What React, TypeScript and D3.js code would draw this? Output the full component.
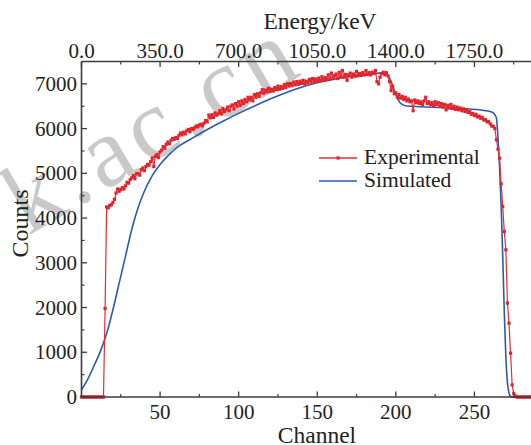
import React from "react";
import * as d3 from "d3";

const W = 531;
const H = 445;

// Experimental counts, one value per channel (index = channel 0..290)
const expCounts = [
  0, 0, 0, 0, 0, 0, 0, 0, 0, 0,
  0, 0, 0, 0, 0, 1980, 4250, 4230, 4280, 4300,
  4350, 4420, 4560, 4650, 4600, 4640, 4680, 4650, 4720, 4800,
  4780, 4860, 4900, 4950, 4880, 4990, 5000, 4960, 5080, 5120,
  5060, 5150, 5200, 5180, 5260, 5340, 5150, 5380, 5420, 5350,
  5480, 5520, 5600, 5560, 5650, 5700, 5660, 5740, 5780, 5760,
  5800, 5780, 5850, 5900, 5860, 5920, 5880, 5950, 5980, 5930,
  6000, 5980, 6020, 6060, 6040, 6080, 6100, 6060, 6120, 6180,
  6150, 6300, 6240, 6310, 6250, 6350, 6300, 6330, 6400, 6330,
  6450, 6380, 6420, 6480, 6400, 6500, 6530, 6440, 6560, 6500,
  6600, 6520, 6620, 6560, 6650, 6600, 6700, 6640, 6700, 6620,
  6760, 6700, 6780, 6720, 6800, 6870, 6790, 6860, 6820, 6900,
  6830, 6880, 6840, 6920, 6870, 6950, 6880, 6940, 6900, 6980,
  6920, 7000, 6950, 7010, 6960, 7040, 6980, 7050, 6990, 7060,
  7010, 7080, 7000, 7060, 7020, 7100, 7040, 7120, 7050, 7110,
  7060, 7130, 7070, 7160, 7080, 7140, 7100, 7200, 7110, 7240,
  7130, 7180, 7220, 7120, 7260, 7160, 7300, 7150, 7210, 7080,
  7200, 7240, 7150, 7220, 7170, 7280, 7180, 7230, 7190, 7250,
  7200, 7300, 7210, 7250, 7200, 7260, 7230, 7300, 7050, 7000,
  7150, 7230, 7260, 7200, 7250, 7180, 7050, 6850, 6950, 6780,
  6800, 6700, 6760, 6680, 6720, 6650, 6700, 6620, 6660, 6600,
  6620, 6400, 6640, 6580, 6620, 6560, 6600, 6540, 6620, 6700,
  6560, 6600, 6540, 6580, 6520, 6600, 6540, 6580, 6500, 6560,
  6480, 6540, 6420, 6520, 6460, 6540, 6450, 6500, 6430, 6480,
  6420, 6460, 6400, 6440, 6380, 6420, 6360, 6380, 6320, 6340,
  6290, 6320, 6260, 6280, 6230, 6250, 6190, 6200, 6150, 6160,
  6110, 6060, 6050, 6000, 5750, 5540, 5340, 4765, 4257, 3700,
  3290, 2100, 1650, 980, 270, 80, 20, 0, 0, 0,
  0, 0, 0, 0, 0, 0, 0, 0, 0, 0, 0,
];

// Simulated curve (channel, counts)
const simChannels = [0, 4, 8, 12, 16, 20, 24, 28, 32, 36, 40, 45, 50, 55, 60, 70, 80, 90, 100, 110, 120, 130, 140, 150, 160, 170, 180, 190, 194, 196, 198, 200, 202, 204, 207, 215, 230, 245, 255, 260, 262, 263, 264, 265, 266, 267, 268, 269, 270, 271, 272, 273, 274, 290];
const simCounts = [160, 400, 700, 1020, 1420, 1950, 2550, 3150, 3750, 4230, 4600, 4950, 5200, 5390, 5555, 5775, 5980, 6165, 6340, 6505, 6660, 6800, 6925, 7025, 7100, 7160, 7207, 7240, 7220, 7130, 6960, 6760, 6610, 6540, 6505, 6490, 6470, 6445, 6410, 6380, 6350, 6310, 6235, 5800, 5150, 4300, 3150, 1900, 900, 320, 90, 15, 0, 0];

const bottomTicks = [50, 100, 150, 200, 250];
const topTicks = [0, 50, 100, 150, 200, 250];
const topTickLabels = ["0.0", "350.0", "700.0", "1050.0", "1400.0", "1750.0"];
const minorXTicks = [25, 75, 125, 175, 225, 275];
const yTicks = [0, 1000, 2000, 3000, 4000, 5000, 6000, 7000];
const minorYTicks = [500, 1500, 2500, 3500, 4500, 5500, 6500];

const seriesNames = ["Experimental", "Simulated"];

const FONT = "'Liberation Serif', 'Times New Roman', serif";
const AX = "#3c3c3c";
const RED = "#ec2a2e";
const BLUE = "#2b5cab";

export default function App() {
  const left = 81.5;
  const top = 61.5;
  const bottom = 397;
  const x = d3.scaleLinear().domain([0, 290]).range([left, left + 290 * 1.5717]);
  const y = d3.scaleLinear().domain([0, 7500]).range([bottom, top]);

  const expData = expCounts.map((v, i) => [i, v] as [number, number]);
  const simData = simChannels.map((c, i) => [c, simCounts[i]] as [number, number]);

  const expLine = d3.line<[number, number]>().x((d) => x(d[0])).y((d) => y(d[1]));
  const simLine = d3
    .line<[number, number]>()
    .x((d) => x(d[0]))
    .y((d) => y(d[1]))
    .curve(d3.curveMonotoneX);

  const right = W + 10;

  return (
    <svg
      width={W}
      height={H}
      style={{ position: "absolute", left: 0, top: 0, background: "#fff" }}
      fontFamily={FONT}
    >
      <rect x={0} y={0} width={W} height={H} fill="#fff" />
      {/* watermark */}
      <text
        transform="translate(28,236) rotate(-30.5)"
        x={0}
        y={0}
        fontSize={100}
        letterSpacing={6}
        fill="#c9c9c9"
      >
        k.ac.cn
      </text>

      {/* data */}
      <path d={simLine(simData) || ""} fill="none" stroke={BLUE} strokeWidth={1.6} />
      <path d={expLine(expData) || ""} fill="none" stroke={RED} strokeWidth={1.2} />
      {expData.map((d, i) => (
        <rect key={i} x={x(d[0]) - 1.6} y={y(d[1]) - 1.6} width={3.2} height={3.2} fill="#e3232b" />
      ))}

      {/* frame */}
      <line x1={left} x2={left} y1={top} y2={bottom} stroke={AX} strokeWidth={1.6} />
      <line x1={left} x2={right} y1={bottom} y2={bottom} stroke={AX} strokeWidth={1.6} />
      <line x1={left} x2={right} y1={top} y2={top} stroke={AX} strokeWidth={1.6} />

      {/* bottom axis */}
      {bottomTicks.map((t) => (
        <g key={"b" + t}>
          <line x1={x(t)} x2={x(t)} y1={bottom} y2={bottom - 5.5} stroke={AX} strokeWidth={1.3} />
          <text x={x(t)} y={419} fontSize={21} textAnchor="middle" fill="#222">
            {t}
          </text>
        </g>
      ))}
      {minorXTicks.map((t) => (
        <line key={"bm" + t} x1={x(t)} x2={x(t)} y1={bottom} y2={bottom - 3} stroke={AX} strokeWidth={1.2} />
      ))}
      <text x={317} y={442.5} fontSize={23.5} textAnchor="middle" fill="#222">
        Channel
      </text>

      {/* top axis */}
      {topTicks.map((t, i) => (
        <g key={"t" + t}>
          <line x1={x(t)} x2={x(t)} y1={top} y2={top + 5.5} stroke={AX} strokeWidth={1.3} />
          <text x={x(t)} y={57.5} fontSize={21} textAnchor="middle" fill="#222">
            {topTickLabels[i]}
          </text>
        </g>
      ))}
      {minorXTicks.map((t) => (
        <line key={"tm" + t} x1={x(t)} x2={x(t)} y1={top} y2={top + 3} stroke={AX} strokeWidth={1.2} />
      ))}
      <text x={320} y={29} fontSize={23.5} textAnchor="middle" fill="#222">
        Energy/keV
      </text>

      {/* left axis */}
      {yTicks.map((t) => (
        <g key={"y" + t}>
          <line x1={left} x2={left + 5.5} y1={y(t)} y2={y(t)} stroke={AX} strokeWidth={1.3} />
          <text x={77} y={y(t) + 7} fontSize={21} textAnchor="end" fill="#222">
            {t}
          </text>
        </g>
      ))}
      {minorYTicks.map((t) => (
        <line key={"ym" + t} x1={left} x2={left + 3} y1={y(t)} y2={y(t)} stroke={AX} strokeWidth={1.2} />
      ))}
      <text
        transform="translate(28,223.5) rotate(-90)"
        fontSize={24}
        textAnchor="middle"
        fill="#222"
      >
        Counts
      </text>

      {/* legend */}
      <line x1={319} x2={357} y1={158} y2={158} stroke={RED} strokeWidth={1.4} />
      <rect x={336.5} y={156.4} width={3.2} height={3.2} fill="#e3232b" />
      <text x={364} y={164} fontSize={21.5} fill="#222">
        {seriesNames[0]}
      </text>
      <line x1={319} x2={357} y1={181} y2={181} stroke={BLUE} strokeWidth={1.6} />
      <text x={364} y={187} fontSize={21.5} fill="#222">
        {seriesNames[1]}
      </text>
    </svg>
  );
}
